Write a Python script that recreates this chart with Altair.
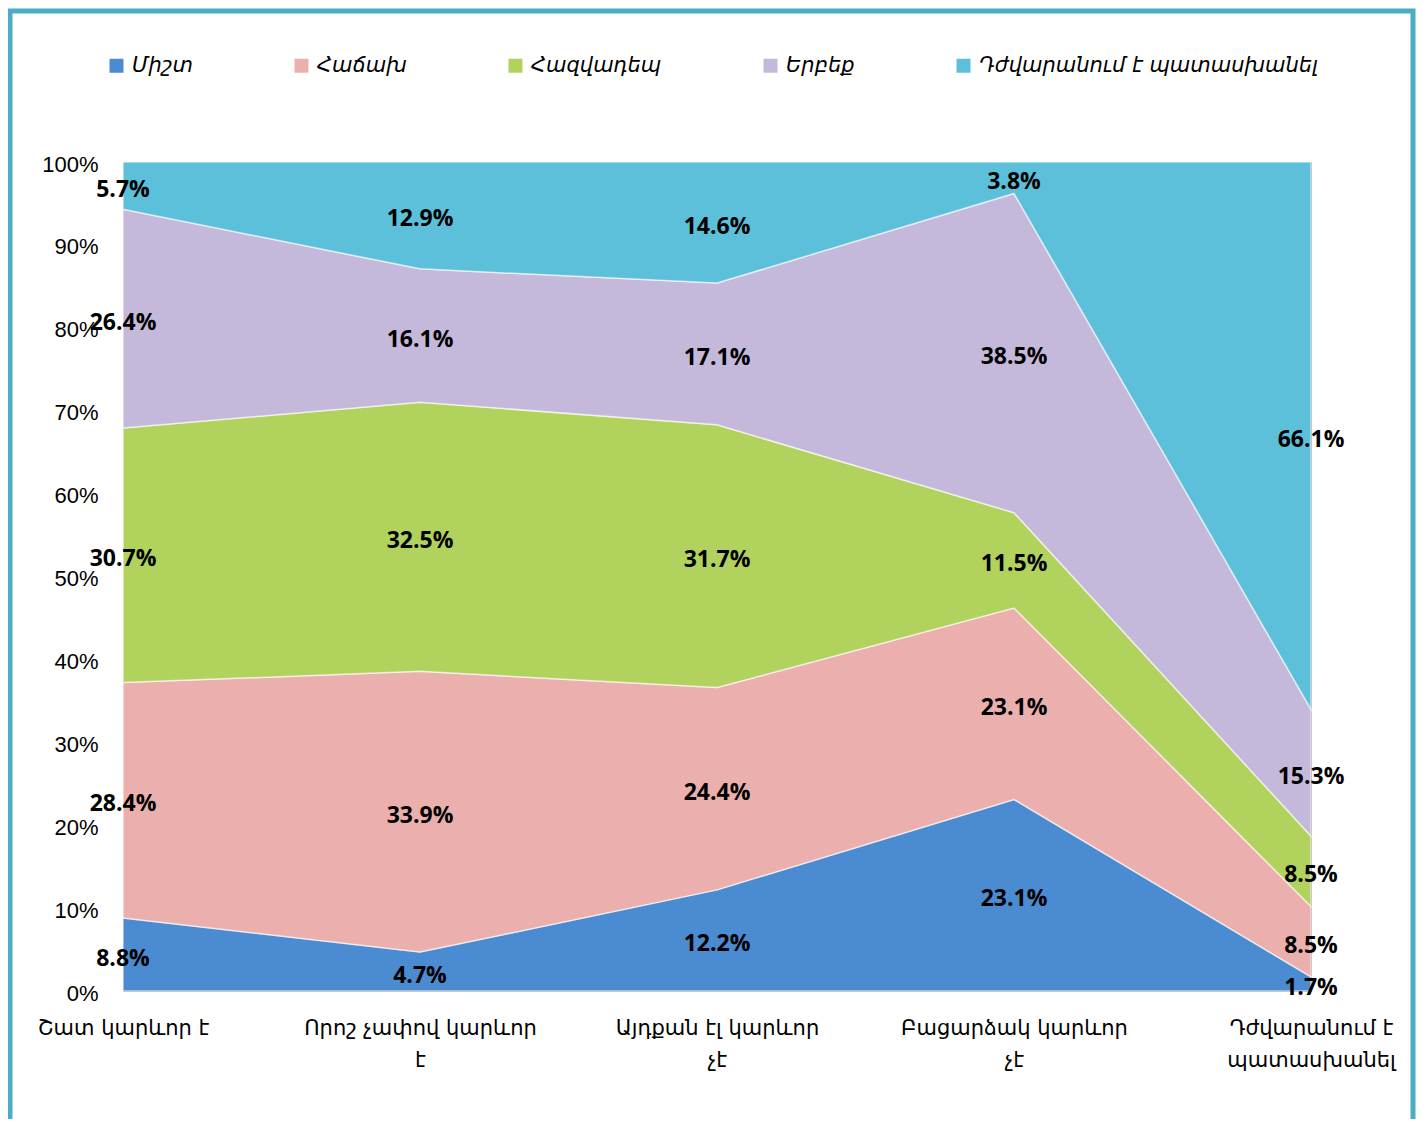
import json
import altair as alt
import pandas as pd

categories = [
    "Շատ կարևոր է",
    "Որոշ չափով կարևոր|է",
    "Այդքան էլ կարևոր|չէ",
    "Բացարձակ կարևոր|չէ",
    "Դժվարանում է|պատասխանել",
]
series = ["Միշտ", "Հաճախ", "Հազվադեպ", "Երբեք", "Դժվարանում է պատասխանել"]
always = [8.8, 4.7, 12.2, 23.1, 1.7]
often = [28.4, 33.9, 24.4, 23.1, 8.5]
rarely = [30.7, 32.5, 31.7, 11.5, 8.5]
never = [26.4, 16.1, 17.1, 38.5, 15.3]
hard = [5.7, 12.9, 14.6, 3.8, 66.1]
colors = ["#4A8BD2", "#EBB0AE", "#B2D25E", "#C5B9DB", "#5CC0DA"]
y_ticks = [0, 0.1, 0.2, 0.3, 0.4, 0.5, 0.6, 0.7, 0.8, 0.9, 1.0]

rows = []
for s_i, (name, vals) in enumerate(zip(series, [always, often, rarely, never, hard])):
    for c_i, v in enumerate(vals):
        rows.append({"idx": c_i, "series": name, "rank": s_i, "value": v})
df = pd.DataFrame(rows)

label_expr = "split(" + json.dumps(categories, ensure_ascii=False) + "[datum.value], '|')"

base = (
    alt.Chart(df)
    .transform_stack(
        stack="value",
        groupby=["idx"],
        as_=["y0", "y1"],
        offset="normalize",
        sort=[alt.SortField("rank", order="ascending")],
    )
    .transform_calculate(
        mid="(datum.y0 + datum.y1) / 2",
        label="format(datum.value, '.1f') + '%'",
    )
)

x_enc = alt.X(
    "idx:Q",
    scale=alt.Scale(domain=[0, 4], nice=False, zero=False),
    axis=alt.Axis(
        values=[0, 1, 2, 3, 4],
        labelExpr=label_expr,
        labelFont="DejaVu Sans",
        labelFontSize=21,
        labelColor="#000000",
        labelPadding=26,
        labelLineHeight=32,
        labelLimit=600,
        labelFlush=False,
        labelOverlap=False,
        domain=False,
        ticks=False,
        grid=False,
        title=None,
    ),
)

area = base.mark_area(stroke="white", strokeWidth=1.5, strokeOpacity=0.6, opacity=1).encode(
    x=x_enc,
    y=alt.Y(
        "y0:Q",
        scale=alt.Scale(domain=[0, 1], nice=False),
        axis=alt.Axis(
            values=y_ticks,
            format=".0%",
            labelFont="Liberation Sans",
            labelFontSize=22,
            labelColor="#000000",
            labelPadding=25,
            labelOffset=2,
            labelFlush=False,
            labelOverlap=False,
            domain=False,
            ticks=False,
            grid=False,
            title=None,
        ),
    ),
    y2="y1:Q",
    color=alt.Color(
        "series:N",
        sort=series,
        scale=alt.Scale(domain=series, range=colors),
        legend=alt.Legend(
            orient="none",
            legendX=-17,
            legendY=-107,
            direction="horizontal",
            title=None,
            symbolType="square",
            symbolSize=196,
            symbolOpacity=1,
            symbolStrokeWidth=0,
            labelFont="DejaVu Sans",
            labelFontStyle="italic",
            labelFontSize=21,
            labelColor="#000000",
            labelOffset=5,
            labelLimit=600,
            columnPadding=98,
            padding=0,
        ),
    ),
)

text = base.mark_text(fontWeight="bold", fontSize=23, font="Open Sans", color="#000000", dy=4).encode(
    x=alt.X("idx:Q"),
    y=alt.Y("mid:Q"),
    text="label:N",
)

border = (
    alt.Chart(alt.Data(values=[{"a": 1}]))
    .mark_rect(fillOpacity=0, stroke="#4BACC6", strokeWidth=5)
    .encode(x=alt.value(-113), x2=alt.value(1290), y=alt.value(-151), y2=alt.value(1100))
)

chart = (
    alt.layer(area, text, border)
    .properties(
        width=1188,
        height=829,
        autosize=alt.AutoSizeParams(type="none"),
        padding={"left": 115, "top": 154, "right": 105, "bottom": 128},
    )
    .configure_view(stroke="#9a9a9a", strokeWidth=1)
)

chart.save("out.html", embed_options={"renderer": "svg", "actions": False})
